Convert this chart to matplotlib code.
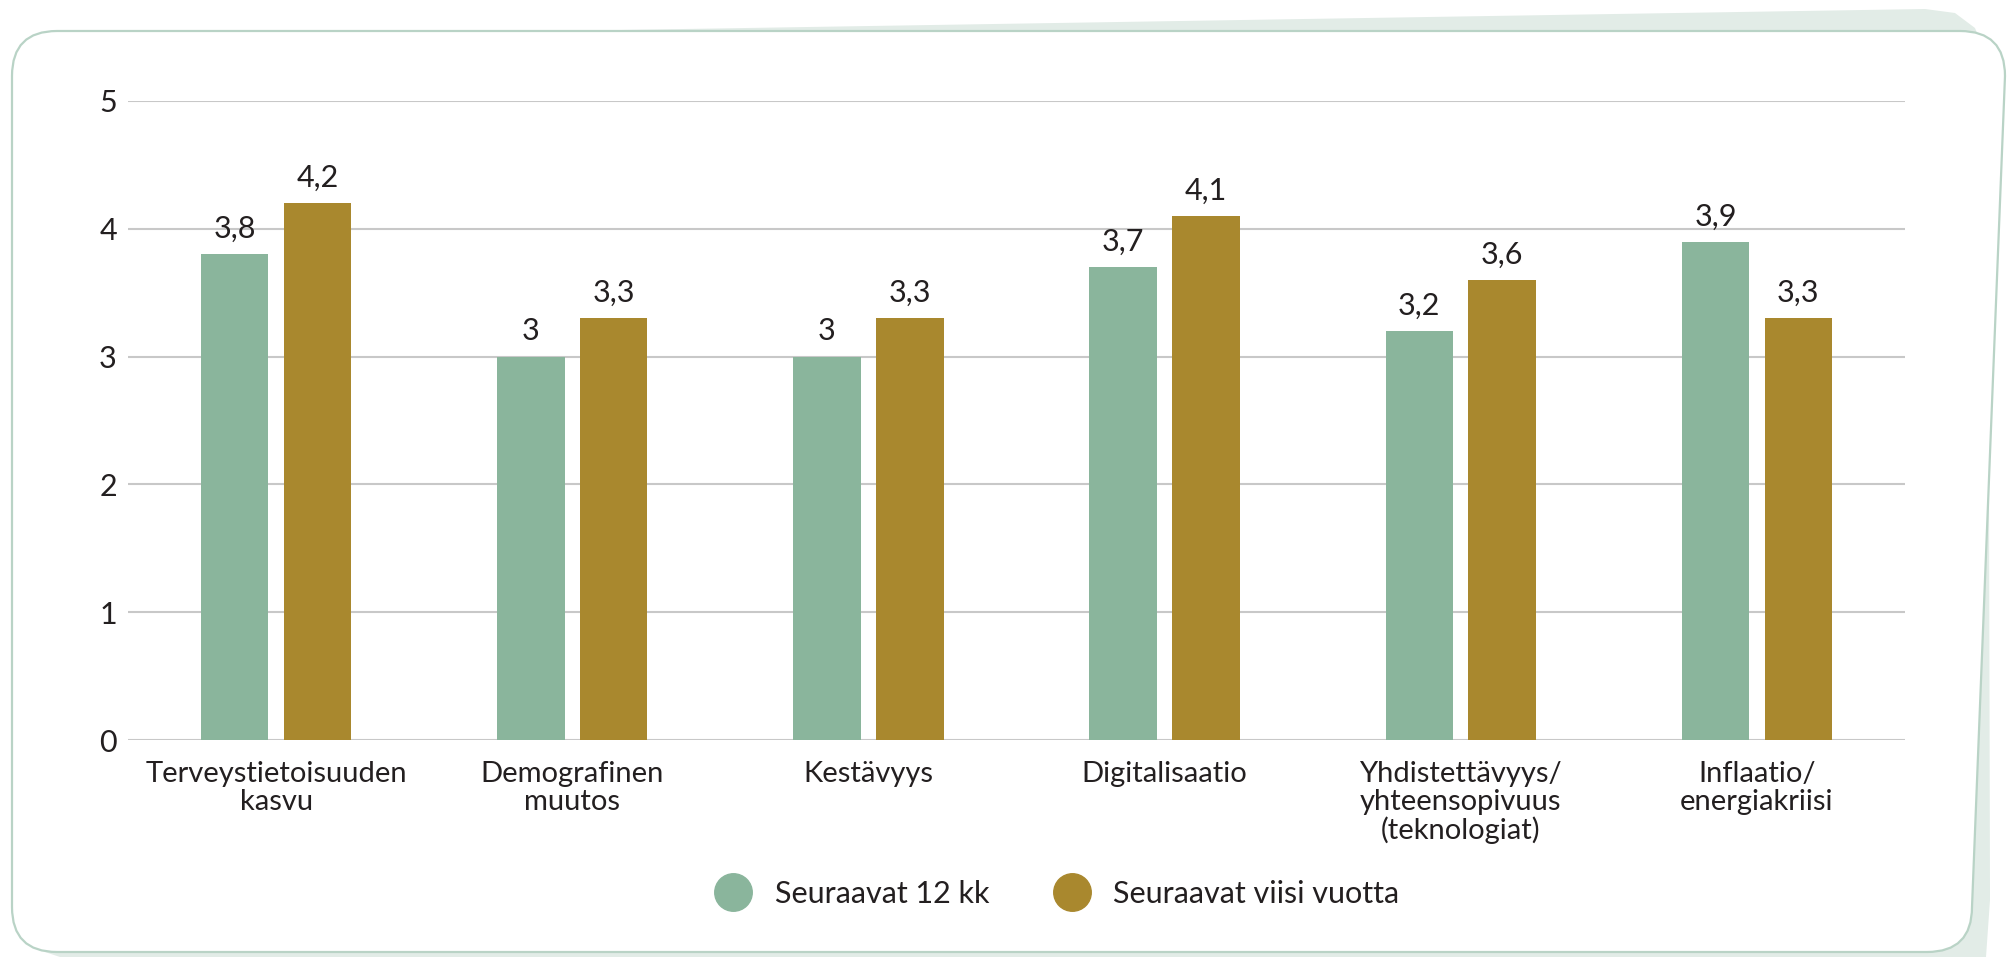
import numpy as np
import matplotlib.pyplot as plt
from matplotlib.path import Path
from matplotlib.patches import PathPatch, Polygon
from matplotlib.lines import Line2D

plt.rcParams['font.family'] = ['Lato', 'DejaVu Sans']

categories = ['Terveystietoisuuden\nkasvu', 'Demografinen\nmuutos', 'Kestävyys',
              'Digitalisaatio', 'Yhdistettävyys/\nyhteensopivuus\n(teknologiat)',
              'Inflaatio/\nenergiakriisi']
next_12m = [3.8, 3.0, 3.0, 3.7, 3.2, 3.9]
next_5y = [4.2, 3.3, 3.3, 4.1, 3.6, 3.3]
series_names = ['Seuraavat 12 kk', 'Seuraavat viisi vuotta']

GREEN = '#8ab59c'
GOLD = '#a9882e'
TEXT = '#231f20'
W, H = 2008, 957

fig = plt.figure(figsize=(W / 100, H / 100), dpi=100)

# decorative frame, drawn in pixel coords
bg = fig.add_axes([0, 0, 1, 1], zorder=0)
bg.set_xlim(0, W)
bg.set_ylim(H, 0)
bg.axis('off')

shadow = Polygon([(560, 31), (1925, 9), (1955, 13), (1975, 28), (1988, 60),
                  (1990, 900), (1986, 957), (60, 957), (45, 952)],
                 closed=True, fc='#e2ece7', ec='none')
bg.add_patch(shadow)

r = 45
verts = [(12 + r, 31), (2005 - r, 31), (2005, 31), (2005, 31 + r),
         (1972, 952 - r), (1972, 952), (1972 - r, 952),
         (12 + r, 952), (12, 952), (12, 952 - r),
         (12, 31 + r), (12, 31), (12 + r, 31), (12 + r, 31)]
codes = [Path.MOVETO, Path.LINETO, Path.CURVE3, Path.CURVE3,
         Path.LINETO, Path.CURVE3, Path.CURVE3,
         Path.LINETO, Path.CURVE3, Path.CURVE3,
         Path.LINETO, Path.CURVE3, Path.CURVE3, Path.CLOSEPOLY]
bg.add_patch(PathPatch(Path(verts, codes), fc='white', ec='#b9d3c6', lw=1.6))

# main chart
ax = fig.add_axes([128 / W, (H - 740) / H, (1905 - 128) / W, (740 - 101) / H], zorder=1)
ax.patch.set_alpha(0)

x = np.arange(len(categories))
bw = 0.228
off = 0.14
b1 = ax.bar(x - off, next_12m, bw, color=GREEN, zorder=3)
b2 = ax.bar(x + off, next_5y, bw, color=GOLD, zorder=3)


def fmt(v):
    return ('%g' % v).replace('.', ',')


for bars, vals in ((b1, next_12m), (b2, next_5y)):
    for rect, v in zip(bars, vals):
        ax.annotate(fmt(v), (rect.get_x() + rect.get_width() / 2, v),
                    xytext=(0, 8), textcoords='offset points',
                    ha='center', va='bottom', fontsize=22, color=TEXT)

ax.set_xlim(-0.5, len(categories) - 0.5)
ax.set_ylim(0, 5)
ax.set_yticks(range(6))
ax.yaxis.grid(True, color='#c8c8c8', lw=1.5, zorder=0)
ax.set_axisbelow(True)
for s in ax.spines.values():
    s.set_visible(False)
ax.tick_params(length=0, labelsize=22, labelcolor=TEXT)
ax.tick_params(axis='y', pad=8)
ax.tick_params(axis='x', pad=15, labelsize=21)
ax.set_xticks(x)
ax.set_xticklabels(categories, linespacing=1.08, va='top')

handles = [Line2D([], [], ls='none', marker='o', ms=27, mfc=c, mec=c)
           for c in (GREEN, GOLD)]
fig.legend(handles, series_names, loc='center', bbox_to_anchor=(1051 / W, 1 - 894 / H),
           ncol=2, frameon=False, fontsize=22, handletextpad=0.35,
           columnspacing=1.7, labelcolor=TEXT)

fig.savefig('out.png', dpi=100)
